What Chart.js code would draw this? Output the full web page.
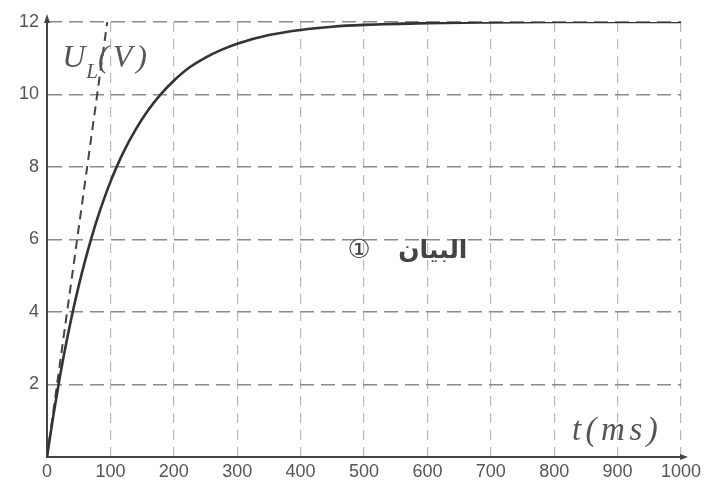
<!DOCTYPE html>
<html>
<head>
<meta charset="utf-8">
<script src="https://cdn.jsdelivr.net/npm/chart.js@4/dist/chart.umd.min.js"></script>
<style>
  html, body { margin: 0; padding: 0; background: #fff; }
  #wrap { width: 711px; height: 485px; }
</style>
</head>
<body>
<div id="wrap"><canvas id="c"></canvas></div>
<script>
// U_L(t) (ms, V)
const tWaktu = [0, 10, 20, 30, 40, 50, 60, 70, 80, 90, 100, 120, 140, 160, 180, 200,
                225, 250, 275, 300, 350, 400, 450, 500, 600, 700, 800, 900, 1000];
const uTegangan = [0, 1.14, 2.18, 3.11, 3.96, 4.72, 5.41, 6.04, 6.61, 7.12, 7.59, 8.39,
                   9.04, 9.58, 10.02, 10.38, 10.75, 11.02, 11.23, 11.40, 11.64, 11.78,
                   11.87, 11.92, 11.97, 11.99, 12, 12, 12];
// garis singgung di titik awal (putus-putus)
const tSinggung = [0, 95];
const uSinggung = [0, 12];

const xTicks = [0, 100, 200, 300, 400, 500, 600, 700, 800, 900, 1000];
const yTicks = [0, 2, 4, 6, 8, 10, 12];

const labelY = "U";
const labelYSub = "L";
const labelYUnit = "(V)";
const labelX = "t(ms)";
const judulKata = "البيان";
const judulNomor = "①";

const toXY = (xs, ys) => xs.map((x, i) => ({ x, y: ys[i] }));

// teks & panah sumbu digambar manual
const hiasan = {
    id: "hiasan",
    afterDraw(chart) {
        const { ctx, chartArea: a, scales } = chart;
        const sx = scales.x, sy = scales.y;
        ctx.save();
        ctx.fillStyle = "#444";
        // panah sumbu y
        ctx.beginPath();
        ctx.moveTo(a.left, a.top - 8);
        ctx.lineTo(a.left - 3, a.top + 1);
        ctx.lineTo(a.left + 3, a.top + 1);
        ctx.closePath();
        ctx.fill();
        // panah sumbu x
        ctx.beginPath();
        ctx.moveTo(a.right + 7, a.bottom);
        ctx.lineTo(a.right - 1, a.bottom - 3);
        ctx.lineTo(a.right - 1, a.bottom + 3);
        ctx.closePath();
        ctx.fill();

        // U_L(V)
        ctx.fillStyle = "#555";
        ctx.textBaseline = "alphabetic";
        ctx.textAlign = "left";
        let px = sx.getPixelForValue(24), py = sy.getPixelForValue(10.76);
        ctx.font = "italic 32px 'Liberation Serif', serif";
        ctx.fillText(labelY, px, py);
        px += ctx.measureText(labelY).width + 1;
        ctx.font = "italic 21px 'Liberation Serif', serif";
        ctx.fillText(labelYSub, px, py + 11);
        px += ctx.measureText(labelYSub).width;
        ctx.font = "italic 32px 'Liberation Serif', serif";
        ctx.letterSpacing = "4px";
        ctx.fillText(labelYUnit, px, py);

        // t(ms)
        ctx.font = "italic 33px 'Liberation Serif', serif";
        ctx.letterSpacing = "4.5px";
        ctx.fillText(labelX, sx.getPixelForValue(828), sy.getPixelForValue(0.47));
        ctx.letterSpacing = "0px";

        // judul arab: kata di kanan, nomor berlingkar di kiri
        ctx.fillStyle = "#444";
        ctx.direction = "rtl";
        ctx.textAlign = "right";
        ctx.font = "bold 25px 'DejaVu Sans', sans-serif";
        const by = sy.getPixelForValue(5.5);
        ctx.fillText(judulKata, sx.getPixelForValue(663), by);
        ctx.direction = "ltr";
        ctx.textAlign = "left";
        ctx.font = "26px 'DejaVu Sans', 'Noto Sans', sans-serif";
        ctx.fillText(judulNomor, sx.getPixelForValue(474), by);
        ctx.restore();
    },
};

new Chart(document.getElementById("c"), {
    type: "scatter",
    data: {
        datasets: [
            {
                label: "U_L",
                data: toXY(tWaktu, uTegangan),
                showLine: true,
                borderColor: "#333",
                borderWidth: 2.6,
                pointRadius: 0,
                cubicInterpolationMode: "monotone",
            },
            {
                label: "singgung",
                data: toXY(tSinggung, uSinggung),
                showLine: true,
                borderColor: "#444",
                borderWidth: 2,
                borderDash: [9, 6],
                pointRadius: 0,
            },
        ],
    },
    options: {
        responsive: true,
        maintainAspectRatio: false,
        animation: false,
        layout: { padding: { top: 22, right: 30, left: 0, bottom: 0 } },
        plugins: { legend: { display: false }, tooltip: { enabled: false } },
        scales: {
            x: {
                type: "linear",
                min: 0,
                max: 1000,
                afterBuildTicks: (s) => { s.ticks = xTicks.map((v) => ({ value: v })); },
                afterFit: (s) => { s.height = 28; },
                ticks: {
                    color: "#555",
                    font: { family: "'Liberation Sans', sans-serif", size: 18 },
                    padding: 4,
                    maxRotation: 0,
                    callback: (v) => String(v),
                },
                grid: { color: "#b8b8b8", lineWidth: 1.2, drawTicks: false },
                border: { display: true, color: "#444", width: 2, dash: [10, 7] },
            },
            y: {
                type: "linear",
                min: 0,
                max: 12,
                afterBuildTicks: (s) => { s.ticks = yTicks.map((v) => ({ value: v })); },
                afterFit: (s) => { s.width = 47; },
                ticks: {
                    color: "#555",
                    font: { family: "'Liberation Sans', sans-serif", size: 18 },
                    padding: 8,
                    callback: (v) => (v === 0 ? "" : String(v)),
                },
                grid: { color: "#8a8a8a", lineWidth: 1.4, drawTicks: false },
                border: { display: true, color: "#444", width: 2, dash: [14, 7] },
            },
        },
    },
    plugins: [hiasan],
});
</script>
</body>
</html>
